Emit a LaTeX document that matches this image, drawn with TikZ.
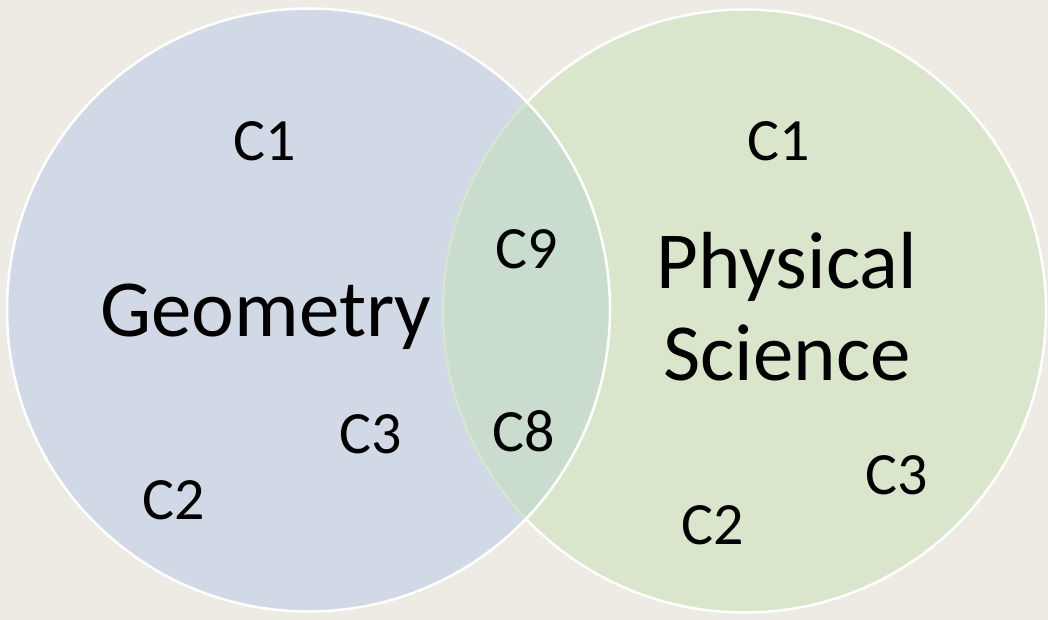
\documentclass[tikz,border=0pt]{standalone}
\usepackage{fontspec}
\setmainfont{Carlito}
\definecolor{bg}{RGB}{238,234,228}
\definecolor{blueC}{RGB}{209,217,231}
\definecolor{greenC}{RGB}{218,230,204}
\definecolor{lensC}{RGB}{201,220,206}
\definecolor{lensLine}{RGB}{216,232,206}
\tikzset{
  big/.style={font=\fontsize{81}{97}\selectfont, anchor=base, inner sep=0pt, align=center},
  small/.style={font=\fontsize{60}{72}\selectfont, anchor=base, inner sep=0pt},
  rim/.style={draw=white, line width=2.5pt}
}
\begin{document}
\begin{tikzpicture}[x=1pt,y=-1pt]
\fill[bg] (0,0) rectangle (1048,620);
\useasboundingbox (0,0) rectangle (1048,620);
\coordinate (cl) at (308.5,310);
\coordinate (cr) at (744.5,311);
% right circle
\fill[greenC] (cr) circle[radius=301.5];
\draw[rim] (cr) circle[radius=301.5];
% left circle
\fill[blueC] (cl) circle[radius=301.5];
% lens
\begin{scope}
  \clip (cl) circle[radius=301.5];
  \fill[lensC] (cr) circle[radius=301.5];
  \draw[lensLine, line width=2pt] (cr) circle[radius=301.5];
\end{scope}
\draw[rim] (cl) circle[radius=301.5];
% labels
\node[big] (geo) at (266,336) {Geometry};
\node[big] (phys) at (787,288) {Physical};
\node[big] (sci) at (787,380) {Science};
\node[small] (l1) at (265,161) {C1};
\node[small] (l3) at (371,453) {C3};
\node[small] (l2) at (174,519) {C2};
\node[small] (c9) at (527,268) {C9};
\node[small] (c8) at (524,451) {C8};
\node[small] (r1) at (779,161) {C1};
\node[small] (r3) at (897,494) {C3};
\node[small] (r2) at (713,544) {C2};
\end{tikzpicture}
\end{document}
